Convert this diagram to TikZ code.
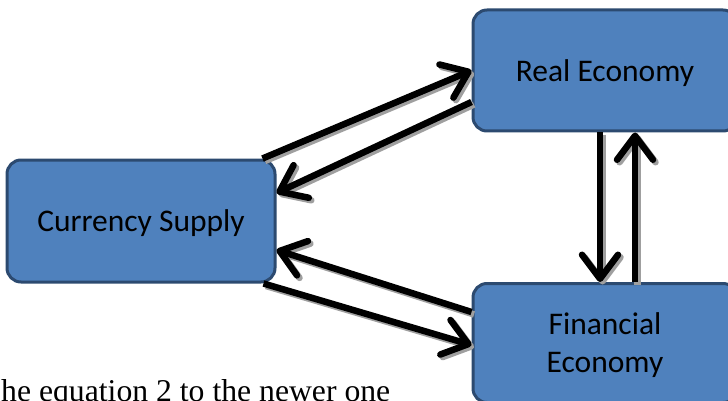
\documentclass[tikz,border=0pt]{standalone}
\usepackage{fontspec}
\setmainfont{Carlito}
\newfontfamily\serifbody{Liberation Serif}
\usetikzlibrary{arrows.meta}
\definecolor{boxfill}{RGB}{79,129,189}
\definecolor{boxline}{RGB}{44,74,112}
\tikzset{
  ecobox/.style={draw=boxline, fill=boxfill, line width=3pt, rounded corners=14pt,
    align=center, font=\fontsize{31.5}{38}\selectfont, text=black, inner sep=0pt, text depth=0pt},
  conn/.style={line width=6.5pt, draw=black,
    -{Straight Barb[length=24pt,width=36pt,line width=6.5pt,round]},
    preaction={draw=gray!75, line width=6.5pt,
      -{Straight Barb[length=24pt,width=36pt,line width=6.5pt,round]},
      transform canvas={shift={(2.5pt,-2.5pt)}}}}
}
\begin{document}
\begin{tikzpicture}[x=1pt,y=-1pt]
\useasboundingbox (0,0) rectangle (728,401);
\clip (0,0) rectangle (728,401);
\fill[white] (0,0) rectangle (728,401);
\node[ecobox, minimum width=268pt, minimum height=122pt] (cs) at (141,221) {Currency Supply};
\node[ecobox, minimum width=264pt, minimum height=121pt] (re) at (605,70.5) {Real Economy};
\node[ecobox, minimum width=264pt, minimum height=119pt] (fe) at (605,343) {Financial\\Economy};
\node[anchor=base west, inner sep=0pt, font=\serifbody\fontsize{31.7}{36}\selectfont] (txt) at (1,401) {he equation 2 to the newer one};
\draw[conn] ([xshift=-14pt]cs.north east) -- (re.west);
\draw[conn] ([yshift=-31.5pt]re.west) -- ([yshift=28pt]cs.east);
\draw[conn] ([yshift=31pt]fe.west) -- ([yshift=-29pt]cs.east);
\draw[conn] ([xshift=-13pt]cs.south east) -- ([yshift=-2pt]fe.west);
\draw[conn] ([xshift=-5pt]re.south) -- ([xshift=-5pt]fe.north);
\draw[conn] ([xshift=30pt]fe.north) -- ([xshift=30pt]re.south);
\end{tikzpicture}
\end{document}
